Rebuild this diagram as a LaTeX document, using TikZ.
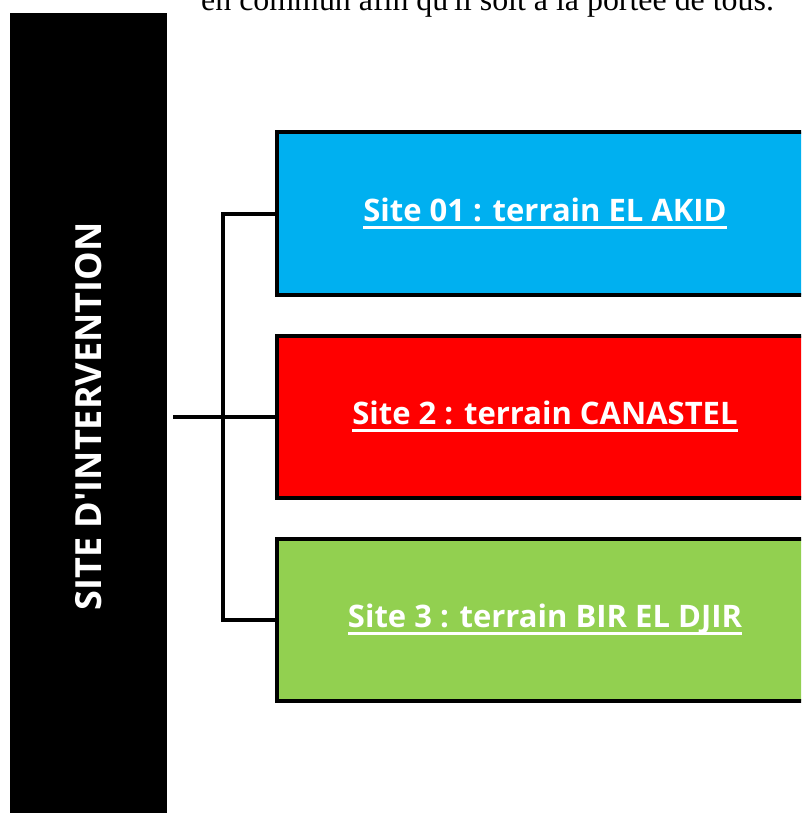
\documentclass[tikz,border=0pt]{standalone}
\usepackage{fontspec}
\setmainfont{Liberation Serif}
\newfontfamily\opensans{Open Sans}
\usepackage{xcolor}
\usepackage{tikz}
\usetikzlibrary{positioning}
\definecolor{siteblue}{HTML}{00B0F0}
\definecolor{sitered}{HTML}{FF0000}
\definecolor{sitegreen}{HTML}{92D050}
\newsavebox{\sitetextbox}
\newcommand{\siteul}[1]{\sbox{\sitetextbox}{#1}%
  \rlap{\rule[-7pt]{\wd\sitetextbox}{3pt}}\usebox{\sitetextbox}}
\tikzset{
  sitebox/.style={draw=black, line width=4pt, minimum width=536pt, minimum height=162pt,
    outer sep=0pt, text=white, font=\opensans\bfseries\fontsize{31}{36}\selectfont},
  link/.style={line width=4pt}
}

\begin{document}
\begin{tikzpicture}[x=1pt, y=-1pt]
    \useasboundingbox (0,0) rectangle (801,813);
    \clip (0,0) rectangle (801,813);
    \node[inner sep=0pt, anchor=base west] (phrase) at (201,11)
      {\fontsize{31.9}{38}\selectfont en commun afin qu\textquotesingle il soit à la portée de tous.};
    \node[fill=black, minimum width=157pt, minimum height=807pt, inner sep=0pt, outer sep=0pt]
      (bar) at (88.5,416.5)
      {\rotatebox{90}{\color{white}\opensans\bfseries\fontsize{36}{42}\selectfont SITE D\textquotesingle INTERVENTION}};
    \node[sitebox, fill=sitered] (site2) at (545,416.5) {\siteul{Site 2 : terrain CANASTEL}};
    \node[sitebox, fill=siteblue, above=41pt of site2] (site1) {\siteul{Site 01 : terrain EL AKID}};
    \node[sitebox, fill=sitegreen, below=41pt of site2] (site3) {\siteul{Site 3 : terrain BIR EL DJIR}};
    \coordinate (root) at ([xshift=6pt]bar.east);
    \coordinate (fork) at (223,416.5);
    \draw[link] (root) -- (site2.west);
    \draw[link] (site1.west) -| (fork) |- (site3.west);
\end{tikzpicture}
\end{document}
